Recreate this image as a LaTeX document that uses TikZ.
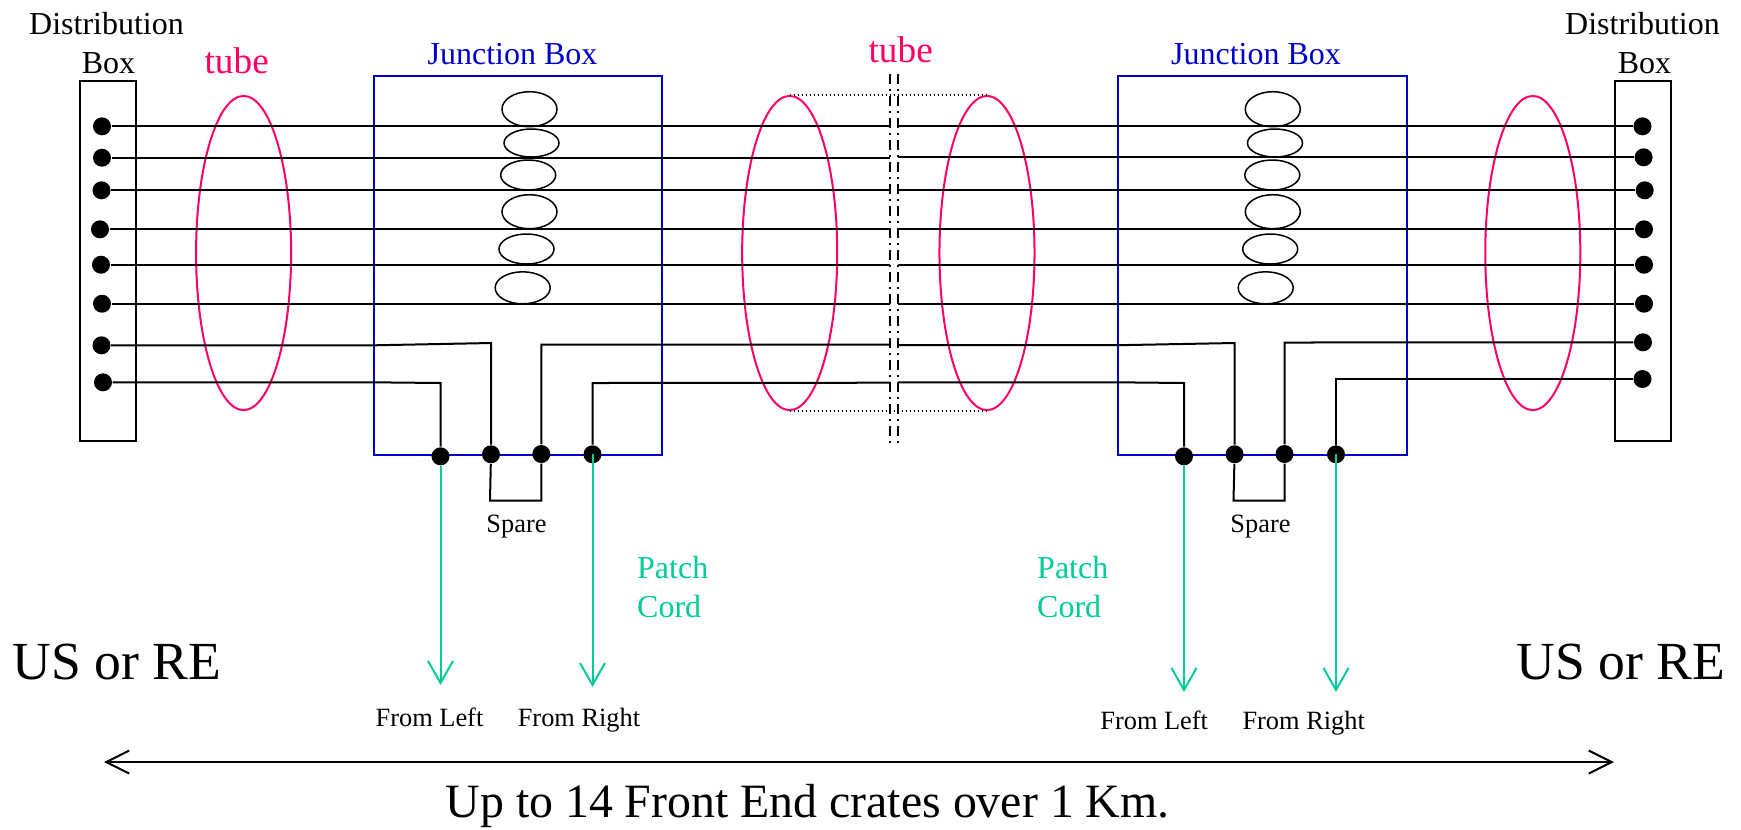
\documentclass[tikz,border=0pt]{standalone}
\usepackage{fontspec}
\setmainfont{Liberation Serif}
\usetikzlibrary{arrows.meta,shapes.geometric}
\definecolor{tubepink}{RGB}{255,0,102}
\definecolor{cordgreen}{RGB}{0,204,153}
\definecolor{boxblue}{RGB}{0,0,204}
\tikzset{
    wire/.style={line width=0.02cm},
    pindot/.style={circle,fill=black,inner sep=0pt,minimum size=0.18cm},
    tube/.style={draw=tubepink,line width=0.02cm,ellipse,inner sep=0pt,minimum width=0.95cm,minimum height=3.14cm},
    coil/.style={draw,line width=0.015cm,ellipse,inner sep=0pt,minimum width=0.55cm},
    distbox/.style={draw,line width=0.02cm,inner sep=0pt,minimum width=0.56cm,minimum height=3.6cm},
    junctionbox/.style={draw=boxblue,line width=0.02cm,inner sep=0pt,minimum width=2.885cm,minimum height=3.79cm},
    cutline/.style={line width=0.02cm,dash pattern=on 0.10cm off 0.05cm on 0.015cm off 0.055cm},
    tubeedge/.style={line width=0.015cm,dash pattern=on 0.015cm off 0.025cm},
    cord/.style={cordgreen,line width=0.02cm,-{Straight Barb[length=0.22cm,width=0.25cm]}},
    span/.style={line width=0.02cm,{Straight Barb[length=0.23cm,width=0.23cm]}-{Straight Barb[length=0.23cm,width=0.23cm]}},
    lblbig/.style={anchor=base,inner sep=0pt,font=\fontsize{15.25}{18}\selectfont},
    lblspan/.style={anchor=base,inner sep=0pt,font=\fontsize{13.6}{16}\selectfont},
    lbltube/.style={anchor=base,inner sep=0pt,text=tubepink,font=\fontsize{10.6}{13}\selectfont},
    lblmid/.style={anchor=base,inner sep=0pt,font=\fontsize{9.1}{11}\selectfont},
    lblsmall/.style={anchor=base,inner sep=0pt,font=\fontsize{7.5}{9}\selectfont}
}
\begin{document}
\begin{tikzpicture}[x=0.01cm,y=-0.01cm]
    \useasboundingbox (0,0) rectangle (1741,829);

    % distribution boxes
    \node[distbox] (distl) at (107.7,260.7) {};
    \node[distbox] (distr) at (1643,260.7) {};
    \node[lblmid] (distlta) at (106.5,34.3) {Distribution};
    \node[lblmid] (distltb) at (108.5,73.7) {Box};
    \node[lblmid] (distrta) at (1642.5,34.3) {Distribution};
    \node[lblmid] (distrtb) at (1644.5,73.7) {Box};

    % junction boxes
    \node[junctionbox] (jbl) at (517.9,265.5) {};
    \node[junctionbox] (jbr) at (1262.2,265.5) {};
    \node[lblmid,text=boxblue] (jblt) at (512.5,64.5) {Junction Box};
    \node[lblmid,text=boxblue] (jbrt) at (1256,64.5) {Junction Box};

    % tubes
    \node[tube] (tba) at (243.6,253) {};
    \node[tube] (tbb) at (789.7,253) {};
    \node[tube] (tbc) at (987,253) {};
    \node[tube] (tbd) at (1532.8,253) {};
    \node[lbltube] (tbat) at (236.7,73) {tube};
    \node[lbltube] (tbmt) at (900.7,62.2) {tube};
    \draw[tubeedge] (tbb.north) -- (tbc.north);
    \draw[tubeedge] (tbb.south) -- (tbc.south);

    % coils
    \node[coil,minimum height=0.35cm] (cla) at (529.5,109.2) {};
    \node[coil,minimum height=0.28cm] (clb) at (531.5,143) {};
    \node[coil,minimum height=0.30cm] (clc) at (528.2,175) {};
    \node[coil,minimum height=0.34cm] (cld) at (529.5,211.7) {};
    \node[coil,minimum height=0.30cm] (cle) at (526.5,249) {};
    \node[coil,minimum height=0.32cm] (clf) at (522.7,287.8) {};
    \node[coil,minimum height=0.35cm] (cra) at (1272.8,109.2) {};
    \node[coil,minimum height=0.28cm] (crb) at (1275,143) {};
    \node[coil,minimum height=0.30cm] (crc) at (1272.3,175) {};
    \node[coil,minimum height=0.34cm] (crd) at (1272.8,211.7) {};
    \node[coil,minimum height=0.30cm] (cre) at (1270.2,249) {};
    \node[coil,minimum height=0.32cm] (crf) at (1265.7,287.8) {};

    % cut through the middle
    \coordinate (cuta) at (890,74);
    \coordinate (cutb) at (890,447);
    \coordinate (cutc) at (898,74);
    \coordinate (cutd) at (898,447);
    \draw[cutline] (cuta) -- (cutb);
    \draw[cutline] (cutc) -- (cutd);

    % pins, left
    \node[pindot] (dla) at (102,126.3) {};
    \node[pindot] (dlb) at (102,157.7) {};
    \node[pindot] (dlc) at (101.5,190.3) {};
    \node[pindot] (dld) at (100,229.3) {};
    \node[pindot] (dle) at (101,264.7) {};
    \node[pindot] (dlf) at (102,303.7) {};
    \node[pindot] (dlg) at (101.5,345.3) {};
    \node[pindot] (dlh) at (103,382.3) {};

    % pins, right
    \node[pindot] (dra) at (1642.5,126.3) {};
    \node[pindot] (drb) at (1643.6,157.3) {};
    \node[pindot] (drc) at (1644.7,190.3) {};
    \node[pindot] (drd) at (1644,229.3) {};
    \node[pindot] (dre) at (1644,264.7) {};
    \node[pindot] (drf) at (1644,303.7) {};
    \node[pindot] (drg) at (1643,342.3) {};
    \node[pindot] (drh) at (1642.5,379) {};

    % through wires, broken at the cut
    \coordinate (wla) at (890,126.3);
    \coordinate (wlb) at (890,157.7);
    \coordinate (wlc) at (890,190.3);
    \coordinate (wld) at (890,229.3);
    \coordinate (wle) at (890,264.7);
    \coordinate (wlf) at (890,303.7);
    \coordinate (wra) at (898,126.3);
    \coordinate (wrb) at (898,157.3);
    \coordinate (wrc) at (898,190.3);
    \coordinate (wrd) at (898,229.3);
    \coordinate (wre) at (898,264.7);
    \coordinate (wrf) at (898,303.7);
    \draw[wire] (dla) -- (wla);
    \draw[wire] (dlb) -- (wlb);
    \draw[wire] (dlc) -- (wlc);
    \draw[wire] (dld) -- (wld);
    \draw[wire] (dle) -- (wle);
    \draw[wire] (dlf) -- (wlf);
    \draw[wire] (wra) -- (dra);
    \draw[wire] (wrb) -- (drb);
    \draw[wire] (wrc) -- (drc);
    \draw[wire] (wrd) -- (drd);
    \draw[wire] (wre) -- (dre);
    \draw[wire] (wrf) -- (drf);

    % pins on the junction boxes
    \node[pindot] (pla) at (440.5,456.3) {};
    \node[pindot] (plb) at (491,454.3) {};
    \node[pindot] (plc) at (541.3,454) {};
    \node[pindot] (pld) at (592.5,454.3) {};
    \node[pindot] (pra) at (1184,456.3) {};
    \node[pindot] (prb) at (1234.6,454.3) {};
    \node[pindot] (prc) at (1284.5,454) {};
    \node[pindot] (prd) at (1336,454.3) {};

    % wires going down, left box
    \coordinate (kga) at (373.5,345.3);
    \coordinate (kgb) at (491,343);
    \coordinate (kha) at (373.5,382.3);
    \coordinate (khb) at (440.5,383);
    \coordinate (kgc) at (541.3,344.5);
    \coordinate (kgd) at (890,344.7);
    \coordinate (khc) at (592.5,383);
    \coordinate (khd) at (890,382.7);
    \draw[wire] (dlg) -- (kga) -- (kgb) -- (plb);
    \draw[wire] (dlh) -- (kha) -- (khb) -- (pla);
    \draw[wire] (plc) -- (kgc) -- (kgd);
    \draw[wire] (pld) -- (khc) -- (khd);

    % wires going down, right box
    \coordinate (mga) at (898,345.2);
    \coordinate (mgb) at (1117.5,345.2);
    \coordinate (mgc) at (1234.6,343);
    \coordinate (mha) at (898,382.3);
    \coordinate (mhb) at (1117.5,382.3);
    \coordinate (mhc) at (1184,383);
    \coordinate (mgd) at (1284.5,342.5);
    \coordinate (mhd) at (1336,379);
    \draw[wire] (mga) -- (mgb) -- (mgc) -- (prb);
    \draw[wire] (mha) -- (mhb) -- (mhc) -- (pra);
    \draw[wire] (prc) -- (mgd) -- (drg);
    \draw[wire] (prd) -- (mhd) -- (drh);

    % spare loops
    \coordinate (spa) at (490,500.7);
    \coordinate (spb) at (541.3,500.7);
    \coordinate (spc) at (1233.5,500.7);
    \coordinate (spd) at (1284.5,500.7);
    \draw[wire] (plb) -- (spa) -- (spb) -- (plc);
    \draw[wire] (prb) -- (spc) -- (spd) -- (prc);
    \node[lblsmall] (sparel) at (516.5,532.5) {Spare};
    \node[lblsmall] (sparer) at (1260.5,532.5) {Spare};

    % patch cords
    \coordinate (ela) at (440.5,685);
    \coordinate (elb) at (592.5,687);
    \coordinate (era) at (1184,692);
    \coordinate (erb) at (1336,692);
    \draw[cord] (pla) -- (ela);
    \draw[cord] (pld.center) -- (elb);
    \draw[cord] (pra) -- (era);
    \draw[cord] (prd.center) -- (erb);
    \node[lblmid,text=cordgreen,anchor=base west] (patchl) at (636.5,578) {Patch};
    \node[lblmid,text=cordgreen,anchor=base west] (cordl) at (636.5,617.5) {Cord};
    \node[lblmid,text=cordgreen,anchor=base west] (patchr) at (1036.5,578) {Patch};
    \node[lblmid,text=cordgreen,anchor=base west] (cordr) at (1036.5,617.5) {Cord};

    \node[lblsmall] (froma) at (429.5,726) {From Left};
    \node[lblsmall] (fromb) at (579,726) {From Right};
    \node[lblsmall] (fromc) at (1154.2,729.5) {From Left};
    \node[lblsmall] (fromd) at (1303.7,729.5) {From Right};

    \node[lblbig] (usl) at (117,679) {US or RE};
    \node[lblbig] (usr) at (1620.8,679) {US or RE};

    % overall length
    \coordinate (spanl) at (104,762);
    \coordinate (spanr) at (1614,762);
    \draw[span] (spanl) -- (spanr);
    \node[lblspan] (spant) at (807.6,817) {Up to 14 Front End crates over 1 Km.};
\end{tikzpicture}
\end{document}
